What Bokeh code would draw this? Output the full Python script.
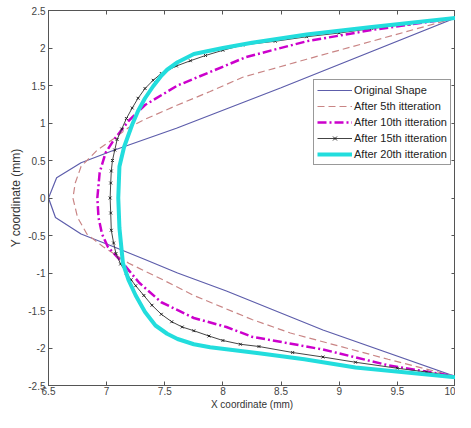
from bokeh.plotting import figure
from bokeh.models import (Range1d, FixedTicker, LinearAxis, Legend, LegendItem,
                          CustomJSTickFormatter)
from bokeh.embed import file_html
from bokeh.resources import INLINE

# ---------------- data ----------------
x_ticks = [6.5, 7, 7.5, 8, 8.5, 9, 9.5, 10]
y_ticks = [-2.5, -2, -1.5, -1, -0.5, 0, 0.5, 1, 1.5, 2, 2.5]

orig_x = [10, 8.5, 7.6, 7.05, 6.78, 6.57, 6.5,
          6.56, 6.78, 7.06, 7.33, 7.61, 8.03, 8.86, 10]
orig_y = [2.4, 1.47, 0.93, 0.63, 0.47, 0.27, 0,
          -0.26, -0.48, -0.65, -0.82, -1.0, -1.24, -1.76, -2.38]

it5_x = [10, 9.28, 8.72, 8.17, 7.89, 7.61, 7.33, 7.19, 7.06, 6.92, 6.78, 6.73, 6.71,
         6.75, 6.83, 6.97, 7.19, 7.47, 7.75, 8.25, 8.58, 9.42, 10]
it5_y = [2.4, 2.09, 1.85, 1.61, 1.42, 1.24, 1.05, 0.94, 0.79, 0.64, 0.42, 0.2, 0,
         -0.26, -0.48, -0.65, -0.87, -1.08, -1.30, -1.62, -1.80, -2.15, -2.38]

it10_x = [10, 9.28, 8.72, 8.2, 7.89, 7.61, 7.33, 7.19, 7.06, 6.99, 6.94, 6.92,
          6.93, 6.96, 7.01, 7.14, 7.28, 7.47, 7.75, 8.03, 8.25, 8.86, 9.42, 10]
it10_y = [2.4, 2.24, 2.09, 1.88, 1.68, 1.50, 1.24, 1.03, 0.77, 0.6, 0.34, 0,
          -0.26, -0.48, -0.65, -0.87, -1.13, -1.39, -1.60, -1.72, -1.85, -2.02, -2.23, -2.38]

it15_x = [10, 9.6, 9.28, 9.0, 8.72, 8.45, 8.17, 8.0, 7.85, 7.72, 7.6, 7.47, 7.4, 7.33,
          7.27, 7.22, 7.17, 7.13, 7.09, 7.07, 7.05, 7.04, 7.035, 7.03,
          7.035, 7.04, 7.06, 7.08, 7.12, 7.17, 7.21, 7.25, 7.32, 7.39, 7.47, 7.56,
          7.65, 7.75, 7.88, 8.0, 8.15, 8.31, 8.6, 8.86, 9.14, 9.5, 9.75, 10]
it15_y = [2.4, 2.32, 2.26, 2.2, 2.15, 2.09, 2.04, 1.97, 1.9, 1.83, 1.76, 1.66, 1.57, 1.46,
          1.33, 1.2, 1.06, 0.92, 0.78, 0.64, 0.5, 0.36, 0.2, 0,
          -0.2, -0.43, -0.6, -0.74, -0.88, -1.0, -1.09, -1.17, -1.3, -1.43, -1.55, -1.65,
          -1.72, -1.77, -1.84, -1.9, -1.95, -1.98, -2.06, -2.12, -2.19, -2.27, -2.32, -2.38]

it20_x = [10, 9.28, 8.72, 8.25, 8.0, 7.75, 7.61, 7.52, 7.47, 7.4, 7.33, 7.27, 7.22, 7.15,
          7.11, 7.1, 7.11, 7.14, 7.19, 7.25, 7.33, 7.42, 7.52, 7.61, 7.75, 7.89, 8.31,
          8.7, 9.14, 10]
it20_y = [2.4, 2.28, 2.18, 2.07, 2.0, 1.92, 1.81, 1.71, 1.63, 1.49, 1.33, 1.16, 0.98, 0.68,
          0.42, 0, -0.4, -0.87, -1.1, -1.3, -1.52, -1.7, -1.81, -1.88, -1.95, -1.99, -2.07,
          -2.15, -2.26, -2.39]

labels = ["Original Shape", "After 5th itteration", "After 10th itteration",
          "After 15th itteration", "After 20th itteration"]

# ---------------- figure ----------------
FONT = "Liberation Sans"
p = figure(width=455, height=412, x_range=Range1d(6.5, 10), y_range=Range1d(-2.5, 2.5),
           output_backend="svg", toolbar_location=None,
           min_border_left=48, min_border_right=0, min_border_top=10, min_border_bottom=20)
p.grid.visible = False
p.outline_line_color = "#555555"
p.background_fill_color = "white"
p.border_fill_color = "white"

fmt = CustomJSTickFormatter(code="return tick.toString();")
blank = CustomJSTickFormatter(code="return '';")

def style_axis(ax, ticks, show_labels):
    ax.ticker = FixedTicker(ticks=ticks)
    ax.formatter = fmt if show_labels else blank
    ax.major_tick_in = 4
    ax.major_tick_out = 0
    ax.minor_tick_in = 0
    ax.minor_tick_out = 0
    ax.axis_line_color = "#555555"
    ax.major_tick_line_color = "#555555"
    ax.major_label_text_font = FONT
    ax.major_label_text_font_size = "10px" if show_labels else "1px"
    ax.major_label_text_color = "#444444"
    ax.major_label_standoff = 3 if show_labels else 0
    ax.axis_label_text_font = FONT
    ax.axis_label_text_font_size = "10px"
    ax.axis_label_text_font_style = "normal"
    ax.axis_label_text_color = "#333333"
    ax.axis_label_standoff = 2

style_axis(p.xaxis[0], x_ticks, True)
style_axis(p.yaxis[0], y_ticks, True)
p.xaxis[0].axis_label = "X coordinate (mm)"
p.yaxis[0].axis_label = "Y coordinate (mm)"
p.yaxis[0].axis_label_text_font_size = "12px"
p.xaxis[0].major_label_standoff = 1
p.xaxis[0].axis_label_standoff = 1

top = LinearAxis()
style_axis(top, x_ticks, False)
p.add_layout(top, "above")
right = LinearAxis()
style_axis(right, y_ticks, False)
p.add_layout(right, "right")

r0 = p.line(orig_x, orig_y, line_color="#5d5dab", line_width=1.2)
r1 = p.line(it5_x, it5_y, line_color="#c98585", line_width=1.2, line_dash="7 4")
r2 = p.line(it10_x, it10_y, line_color="#cc00cc", line_width=2.5, line_dash="9 3 2 3")
r3 = p.line(it15_x, it15_y, line_color="#444444", line_width=1)
r3m = p.scatter(it15_x, it15_y, marker="x", size=4, line_color="#222222", line_width=1)
r4 = p.line(it20_x, it20_y, line_color="#22dddd", line_width=4)

legend = Legend(items=[
    LegendItem(label=labels[0], renderers=[r0]),
    LegendItem(label=labels[1], renderers=[r1]),
    LegendItem(label=labels[2], renderers=[r2]),
    LegendItem(label=labels[3], renderers=[r3, r3m]),
    LegendItem(label=labels[4], renderers=[r4]),
], location=(265, 220))
legend.label_text_font = FONT
legend.label_text_font_size = "11px"
legend.label_text_color = "#222222"
legend.glyph_width = 35
legend.glyph_height = 14
legend.label_height = 14
legend.spacing = 2
legend.padding = 3
legend.margin = 0
legend.label_standoff = 2
legend.border_line_color = "#333333"
legend.border_line_width = 1
legend.background_fill_color = "white"
legend.background_fill_alpha = 1
p.add_layout(legend, "center")

open("out.html", "w").write(file_html(p, INLINE))
